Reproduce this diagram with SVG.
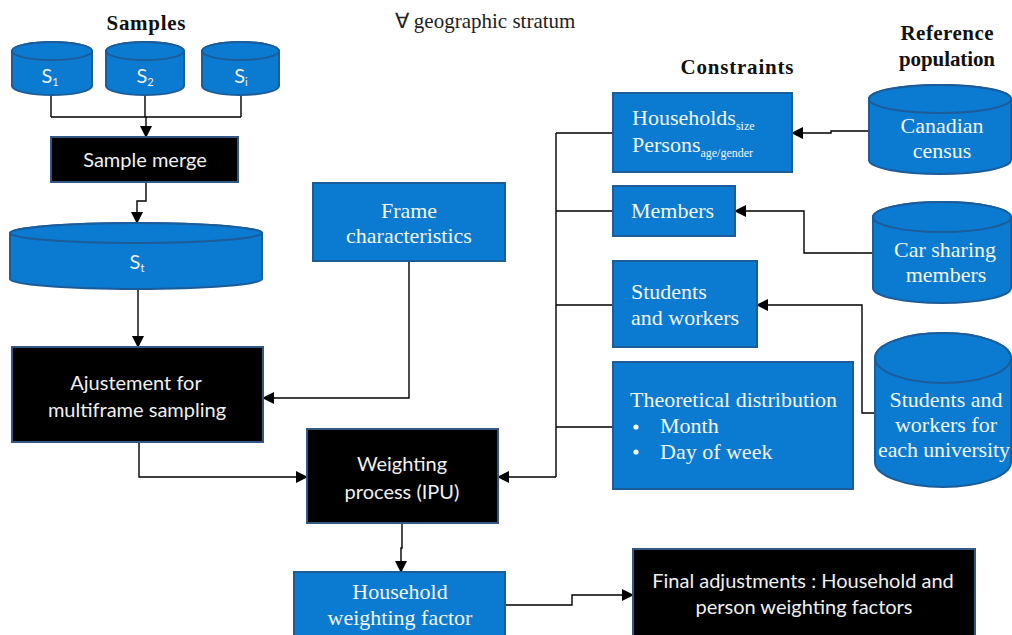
<svg xmlns="http://www.w3.org/2000/svg" width="1012" height="635" viewBox="0 0 1012 635">
<defs>
<marker id="arr" markerUnits="userSpaceOnUse" markerWidth="12" markerHeight="12" viewBox="0 0 12 12" refX="11" refY="6" orient="auto">
<path d="M0,0 L12,6 L0,12 Z" fill="#000"/>
</marker>
<style>
.blue{fill:#0B7AD1;stroke:#1C5C98;stroke-width:2}
.black{fill:#000;stroke:#355882;stroke-width:2}
.conn{fill:none;stroke:#000;stroke-width:1.4}
.ca{marker-end:url(#arr)}
.hdr{font-family:"Liberation Serif",serif;font-weight:bold;font-size:21px;fill:#111;text-anchor:middle}
.title{font-family:"Liberation Serif",serif;font-size:21px;fill:#222;text-anchor:middle}
.ser{font-family:"Liberation Serif",serif;font-size:22px;fill:#F2F6FA}
.mid{text-anchor:middle}
.sans{font-family:Lato,"Liberation Sans",sans-serif;font-size:20px;fill:#F0F0F0;text-anchor:middle}
.sub{font-size:12px}
.ssub{font-size:11px}
</style>
</defs>
<rect width="1012" height="635" fill="#fff"/>

<text class="hdr" x="146" y="30" textLength="79">Samples</text>
<text class="title" x="485" y="28">∀ geographic stratum</text>
<text class="hdr" x="737" y="74" textLength="113">Constraints</text>
<text class="hdr" x="947" y="40" textLength="93">Reference</text>
<text class="hdr" x="947" y="66" textLength="96">population</text>

<g id="conns">
<path class="conn" d="M51,95 V117 M145,95 V117 M241,95 V117 M51,117 H241"/>
<path class="conn ca" d="M146,117 V137"/>
<path class="conn ca" d="M146,182 V201 H137 V223"/>
<path class="conn ca" d="M138,289 V347"/>
<path class="conn ca" d="M409,261 V398 H263"/>
<path class="conn ca" d="M139,442 V477 H307"/>
<path class="conn" d="M613,133 H556 M613,211 H556 M613,305 H556 M613,427 H556 M556,133 V477"/>
<path class="conn ca" d="M556,477 H498"/>
<path class="conn ca" d="M869,131 H831 V133 H792"/>
<path class="conn ca" d="M873,253 H804 V211 H735"/>
<path class="conn ca" d="M875,413 H862 V305 H757"/>
<path class="conn ca" d="M402,523 V548 H401 V572"/>
<path class="conn ca" d="M505,605 H572 V595 H633"/>
</g>

<g id="s1">
<path class="blue" d="M12,51 V86 A40,9 0 0 0 92,86 V51 A40,9 0 0 0 12,51 Z"/>
<ellipse class="blue" cx="52" cy="51" rx="40" ry="9"/>
<text class="sans" x="50" y="83" font-size="17">S<tspan class="ssub" dy="3">1</tspan></text>
</g>
<g id="s2">
<path class="blue" d="M106,51 V86 A39,9 0 0 0 184,86 V51 A39,9 0 0 0 106,51 Z"/>
<ellipse class="blue" cx="145" cy="51" rx="39" ry="9"/>
<text class="sans" x="145" y="83" font-size="17">S<tspan class="ssub" dy="3">2</tspan></text>
</g>
<g id="si">
<path class="blue" d="M202,51 V86 A38.5,9 0 0 0 279,86 V51 A38.5,9 0 0 0 202,51 Z"/>
<ellipse class="blue" cx="240.5" cy="51" rx="38.5" ry="9"/>
<text class="sans" x="241" y="83" font-size="17">S<tspan class="ssub" dy="3">i</tspan></text>
</g>

<g id="merge">
<rect class="black" x="51" y="137" width="187" height="45"/>
<text class="sans" x="145" y="167">Sample merge</text>
</g>

<g id="st">
<path class="blue" d="M10,233 V279 A126,10 0 0 0 262,279 V233 A126,10 0 0 0 10,233 Z"/>
<ellipse class="blue" cx="136" cy="233" rx="126" ry="10"/>
<text class="sans" x="137" y="269" font-size="17">S<tspan class="ssub" dy="3">t</tspan></text>
</g>

<g id="frame">
<rect class="blue" x="313" y="183" width="192" height="78"/>
<text class="ser mid" x="409" y="218">Frame</text>
<text class="ser mid" x="409" y="243">characteristics</text>
</g>

<g id="ajust">
<rect class="black" x="12" y="347" width="251" height="95"/>
<text class="sans" x="136" y="390">Ajustement for</text>
<text class="sans" x="137" y="417">multiframe sampling</text>
</g>

<g id="weight">
<rect class="black" x="307" y="429" width="191" height="94"/>
<text class="sans" x="402" y="471">Weighting</text>
<text class="sans" x="402" y="499">process (IPU)</text>
</g>

<g id="hwf">
<rect class="blue" x="294" y="572" width="211" height="70"/>
<text class="ser mid" x="400" y="599">Household</text>
<text class="ser mid" x="400" y="625">weighting  factor</text>
</g>

<g id="final">
<rect class="black" x="633" y="549" width="342" height="93"/>
<text class="sans" x="803" y="588">Final adjustments : Household and</text>
<text class="sans" x="804" y="614">person weighting factors</text>
</g>

<g id="households">
<rect class="blue" x="613" y="93" width="179" height="79"/>
<text class="ser" x="632" y="125">Households<tspan class="sub" dy="5">size</tspan></text>
<text class="ser" x="632" y="152">Persons<tspan class="sub" dy="5">age/gender</tspan></text>
</g>

<g id="members">
<rect class="blue" x="613" y="186" width="122" height="50"/>
<text class="ser" x="631" y="218">Members</text>
</g>

<g id="students">
<rect class="blue" x="613" y="261" width="144" height="86"/>
<text class="ser" x="631" y="299">Students</text>
<text class="ser" x="631" y="325">and workers</text>
</g>

<g id="theoretical">
<rect class="blue" x="613" y="362" width="240" height="127"/>
<text class="ser" x="630" y="407">Theoretical distribution</text>
<circle cx="636" cy="427" r="2.6" fill="#F2F6FA"/>
<text class="ser" x="660" y="433">Month</text>
<circle cx="636" cy="452" r="2.6" fill="#F2F6FA"/>
<text class="ser" x="660" y="459">Day of week</text>
</g>

<g id="census">
<path class="blue" d="M869,99 V160 A71,14 0 0 0 1011,160 V99 A71,14 0 0 0 869,99 Z"/>
<ellipse class="blue" cx="940" cy="99" rx="71" ry="14"/>
<text class="ser mid" x="942" y="133">Canadian</text>
<text class="ser mid" x="942" y="158">census</text>
</g>

<g id="carsharing">
<path class="blue" d="M873,217 V288 A69,15 0 0 0 1011,288 V217 A69,15 0 0 0 873,217 Z"/>
<ellipse class="blue" cx="942" cy="217" rx="69" ry="15"/>
<text class="ser mid" x="945" y="257">Car sharing</text>
<text class="ser mid" x="946" y="282">members</text>
</g>

<g id="univ">
<path class="blue" d="M875,358 V462 A68,25 0 0 0 1011,462 V358 A68,25 0 0 0 875,358 Z"/>
<ellipse class="blue" cx="943" cy="358" rx="68" ry="25"/>
<text class="ser mid" x="946" y="407">Students and</text>
<text class="ser mid" x="946" y="432">workers for</text>
<text class="ser mid" x="944" y="457" textLength="132">each university</text>
</g>
</svg>
